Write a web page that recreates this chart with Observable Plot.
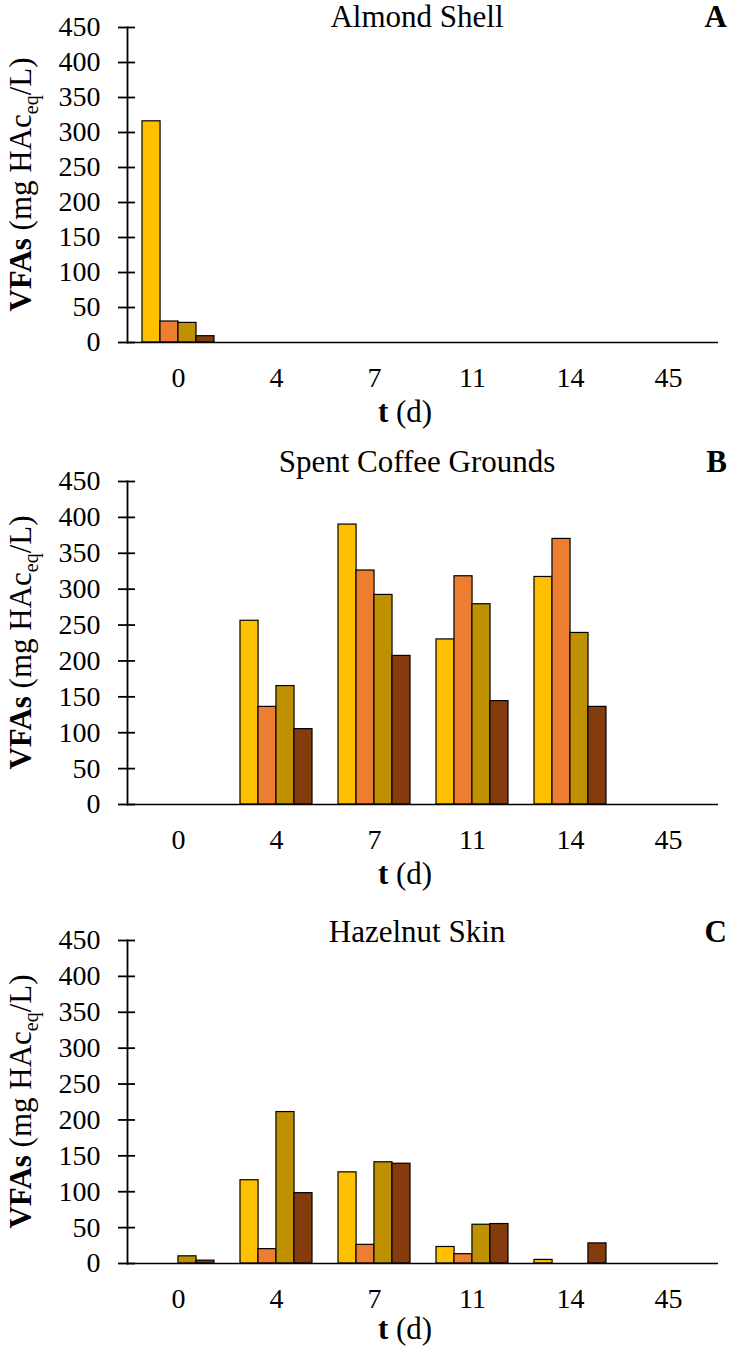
<!DOCTYPE html>
<html>
<head>
<meta charset="utf-8">
<script src="https://cdn.jsdelivr.net/npm/d3@7"></script>
<script src="https://cdn.jsdelivr.net/npm/@observablehq/plot@0.6"></script>
<style>
  html, body { margin: 0; padding: 0; background: #fff; }
  #chart { width: 729px; }
  #chart svg { display: block; }
  #chart svg, #chart svg text { font-family: "Liberation Serif", "Times New Roman", Times, serif !important; }
</style>
</head>
<body>
<div id="chart"></div>
<script>
// ---- Data ----
const days = ["0", "4", "7", "11", "14", "45"];
const seriesNames = ["S1", "S2", "S3", "S4"];
const seriesColors = ["#FFC000", "#ED7D31", "#BF9000", "#843C0C"];
const yTicks = [0, 50, 100, 150, 200, 250, 300, 350, 400, 450];

// A: Almond Shell
const almondS1 = [316, 0, 0, 0, 0, 0];
const almondS2 = [30, 0, 0, 0, 0, 0];
const almondS3 = [28, 0, 0, 0, 0, 0];
const almondS4 = [9, 0, 0, 0, 0, 0];
// B: Spent Coffee Grounds
const coffeeS1 = [0, 256, 390, 230, 317, 0];
const coffeeS2 = [0, 136, 326, 318, 370, 0];
const coffeeS3 = [0, 165, 292, 279, 239, 0];
const coffeeS4 = [0, 105, 207, 144, 136, 0];
// C: Hazelnut Skin
const hazelS1 = [0, 116, 127, 23, 5, 0];
const hazelS2 = [0, 20, 26, 13, 0, 0];
const hazelS3 = [10, 211, 141, 54, 0, 0];
const hazelS4 = [4, 98, 139, 55, 28, 0];

const FONT = "Liberation Serif, Times New Roman, Times, serif";
const W = 729, ML = 127, MR = 11;
const PAD_IN = 0.27, PAD_OUT = 0.135;

function panel(cfg) {
  const arrays = cfg.series;
  const data = days.flatMap((d, j) => seriesNames.map((s, i) => ({day: d, series: s, value: arrays[i][j]})));
  const step = (W - ML - MR) / (days.length - PAD_IN + 2 * PAD_OUT);
  const bw = step * (1 - PAD_IN);
  const sub = bw / seriesNames.length;
  const bars = seriesNames.map((s, i) => Plot.barY(data.filter(d => d.series === s && d.value > 0), {
    x: "day", y: "value", fill: "series", stroke: "#000", strokeWidth: 1.2,
    insetLeft: i * sub, insetRight: (seriesNames.length - 1 - i) * sub
  }));
  const svg = Plot.plot({
    width: W, height: cfg.height,
    marginLeft: ML, marginRight: MR, marginTop: cfg.marginTop, marginBottom: cfg.marginBottom,
    style: {fontFamily: FONT, fontSize: "28px", color: "#000", background: "#fff", overflow: "visible"},
    x: {type: "band", domain: days, paddingInner: PAD_IN, paddingOuter: PAD_OUT},
    y: {domain: [0, 450]},
    color: {domain: seriesNames, range: seriesColors},
    marks: [
      ...bars,
      Plot.ruleY([0], {stroke: "#000", strokeWidth: 1.6}),
      Plot.frame({anchor: "left", stroke: "#000", strokeWidth: 1.8}),
      Plot.axisY({ticks: yTicks, tickSize: 17, dx: 8, tickPadding: 18, fontSize: 28, fontFamily: FONT, label: null, strokeWidth: 1.8}),
      Plot.axisX({tickSize: 0, tickPadding: 25, fontSize: 28, fontFamily: FONT, label: null})
    ]
  });
  const s = d3.select(svg);
  const y0 = cfg.height - cfg.marginBottom;
  // title
  s.append("text").attr("x", 417).attr("y", cfg.titleY).attr("text-anchor", "middle")
    .attr("font-family", FONT).attr("font-size", 31).attr("fill", "#000").text(cfg.title);
  // panel letter
  s.append("text").attr("x", 727).attr("y", cfg.titleY).attr("text-anchor", "end")
    .attr("font-family", FONT).attr("font-size", 31).attr("font-weight", "bold").attr("fill", "#000").text(cfg.letter);
  // x label
  const xl = s.append("text").attr("x", 405).attr("y", y0 + cfg.xLabelOffset).attr("text-anchor", "middle")
    .attr("font-family", FONT).attr("font-size", 31).attr("fill", "#000");
  xl.append("tspan").attr("font-weight", "bold").text("t");
  xl.append("tspan").text(" (d)");
  // y label
  const cy = (cfg.marginTop + y0) / 2;
  const yl = s.append("text").attr("transform", `translate(31,${cy}) rotate(-90)`).attr("text-anchor", "middle")
    .attr("font-family", FONT).attr("font-size", 31).attr("fill", "#000");
  yl.append("tspan").attr("font-weight", "bold").text("VFAs");
  yl.append("tspan").text(" (mg HAc");
  yl.append("tspan").attr("font-size", 20).attr("dy", 7).text("eq");
  yl.append("tspan").attr("dy", -7).text("/L)");
  return svg;
}

const chart = document.getElementById("chart");
chart.appendChild(panel({title: "Almond Shell", letter: "A", series: [almondS1, almondS2, almondS3, almondS4],
  height: 445, marginTop: 27, marginBottom: 103, titleY: 27, xLabelOffset: 80}));
chart.appendChild(panel({title: "Spent Coffee Grounds", letter: "B", series: [coffeeS1, coffeeS2, coffeeS3, coffeeS4],
  height: 460, marginTop: 36, marginBottom: 101, titleY: 27, xLabelOffset: 80}));
chart.appendChild(panel({title: "Hazelnut Skin", letter: "C", series: [hazelS1, hazelS2, hazelS3, hazelS4],
  height: 444, marginTop: 35, marginBottom: 86, titleY: 37, xLabelOffset: 76}));
</script>
</body>
</html>
